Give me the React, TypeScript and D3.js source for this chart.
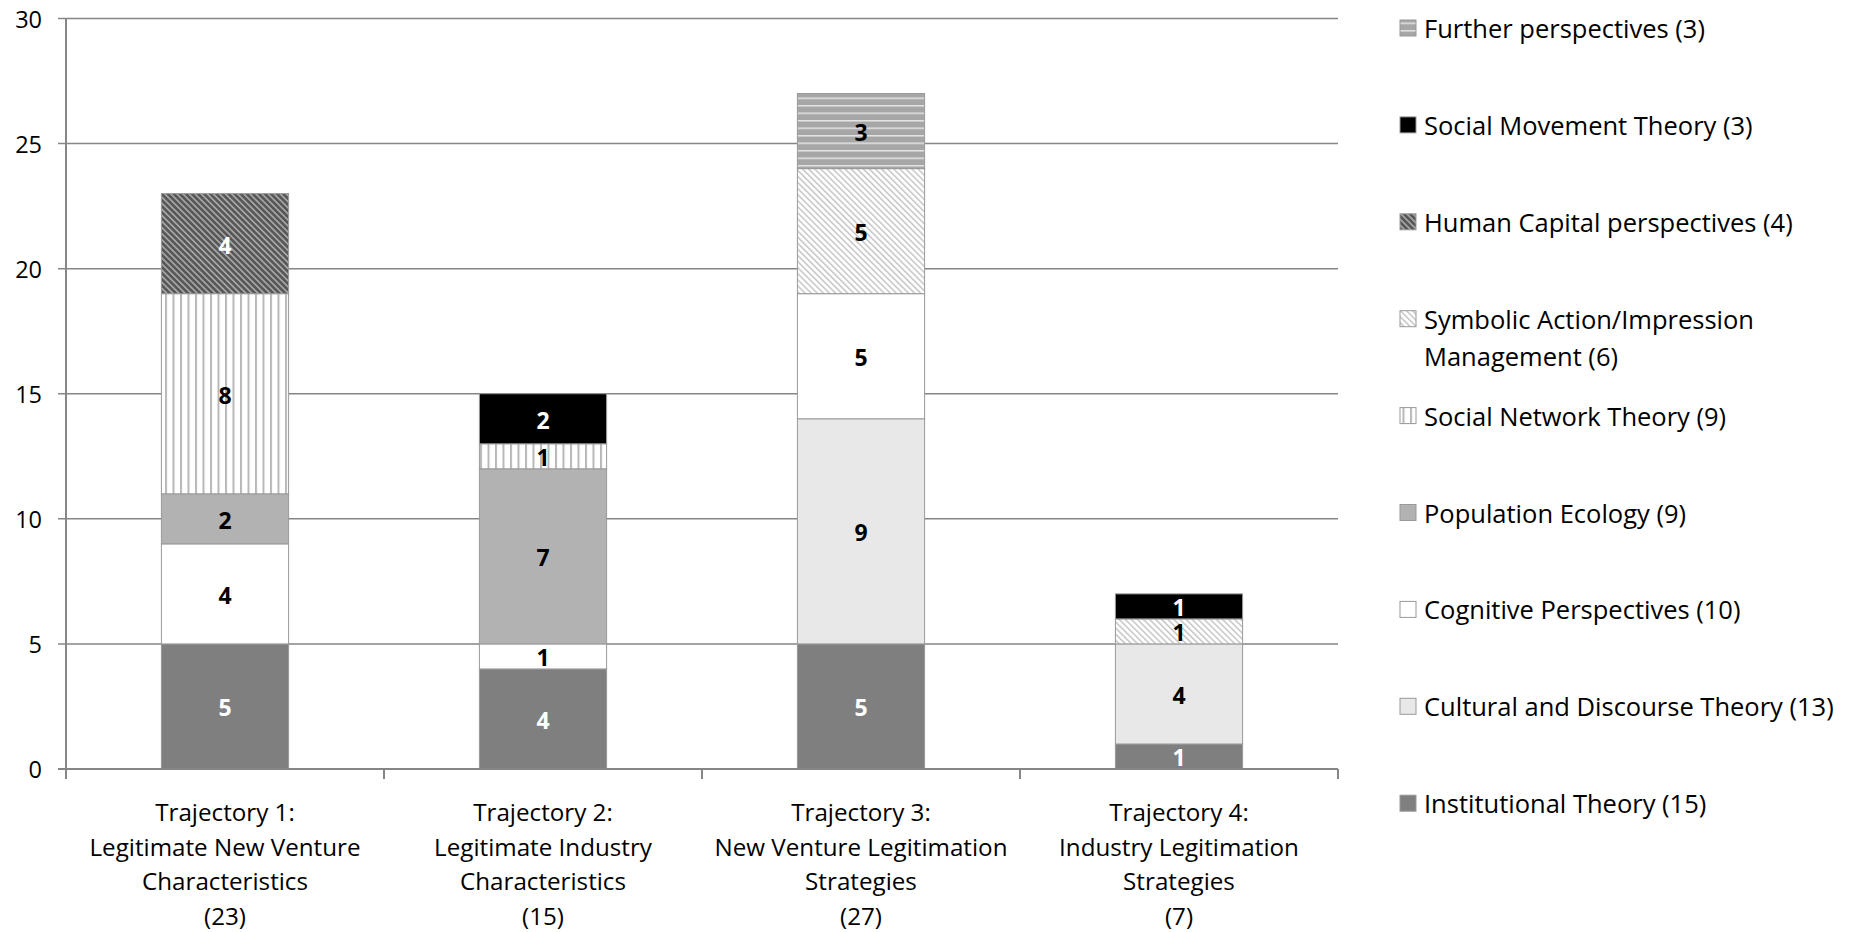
import React from "react";
import * as d3 from "d3";

// Research trajectories (x categories), each label split into lines
const trajectoryLines: string[][] = [
  ["Trajectory 1:", "Legitimate New Venture", "Characteristics"],
  ["Trajectory 2:", "Legitimate Industry", "Characteristics"],
  ["Trajectory 3:", "New Venture Legitimation", "Strategies"],
  ["Trajectory 4:", "Industry Legitimation", "Strategies"],
];
const trajectories = ["T1", "T2", "T3", "T4"];

// Theoretical perspectives, bottom of the stack first
const perspectives = [
  "Institutional Theory",
  "Cultural and Discourse Theory",
  "Cognitive Perspectives",
  "Population Ecology",
  "Social Network Theory",
  "Symbolic Action/Impression\nManagement",
  "Human Capital perspectives",
  "Social Movement Theory",
  "Further perspectives",
];

// Article counts per perspective, one value per trajectory (T1..T4)
const institutional = [5, 4, 5, 1];
const cultural = [0, 0, 9, 4];
const cognitive = [4, 1, 5, 0];
const populationEcology = [2, 7, 0, 0];
const socialNetwork = [8, 1, 0, 0];
const symbolicAction = [0, 0, 5, 1];
const humanCapital = [4, 0, 0, 0];
const socialMovement = [0, 2, 0, 1];
const further = [0, 0, 3, 0];

const seriesValues = [
  institutional,
  cultural,
  cognitive,
  populationEcology,
  socialNetwork,
  symbolicAction,
  humanCapital,
  socialMovement,
  further,
];

const yTicks = [0, 5, 10, 15, 20, 25, 30];

// Fill and label colour per perspective
const fills = [
  "#7f7f7f",
  "#e8e8e8",
  "#ffffff",
  "#b2b2b2",
  "url(#pat-vertical)",
  "url(#pat-light-diag)",
  "url(#pat-dark-diag)",
  "#000000",
  "url(#pat-horizontal)",
];
const labelColors = ["#fff", "#000", "#000", "#000", "#000", "#000", "#fff", "#fff", "#000"];

const FONT = "'Open Sans', 'Noto Sans', sans-serif";
const GRID = "#868686";

export default function App() {
  const width = 1850;
  const height = 932;
  const left = 66;
  const right = 1338;
  const top = 18.5;
  const bottom = 769;

  const keys = perspectives.map((_, i) => String(i));
  const rows = trajectories.map((t, ti) => {
    const r: Record<string, number | string> = { trajectory: t };
    keys.forEach((k, si) => (r[k] = seriesValues[si][ti]));
    return r;
  });
  const stacked = d3.stack<any>().keys(keys)(rows as any);

  const x = d3
    .scaleBand<string>()
    .domain(trajectories)
    .range([left, right])
    .paddingInner(0.6)
    .paddingOuter(0.3);
  const y = d3.scaleLinear().domain([0, 30]).range([bottom, top]);
  const step = x.step();

  const totalsByTrajectory = trajectories.map((_, ti) =>
    d3.sum(seriesValues, (s) => s[ti])
  );
  const totalsBySeries = seriesValues.map((s) => d3.sum(s));

  const legendX = 1400;
  const legendY0 = 28;
  const legendStep = 96.9;

  return (
    <svg
      width={width}
      height={height}
      style={{ position: "absolute", left: 0, top: 0, background: "#fff" }}
      fontFamily={FONT}
    >
      <defs>
        <pattern id="pat-vertical" patternUnits="userSpaceOnUse" width={7.5} height={10}>
          <rect width={7.5} height={10} fill="#fff" />
          <rect x={0} width={2} height={10} fill="#b8b8b8" />
        </pattern>
        <pattern
          id="pat-light-diag"
          patternUnits="userSpaceOnUse"
          width={4.3}
          height={10}
          patternTransform="rotate(-45)"
        >
          <rect width={4.3} height={10} fill="#fff" />
          <rect x={0} width={1.5} height={10} fill="#c6c6c6" />
        </pattern>
        <pattern
          id="pat-dark-diag"
          patternUnits="userSpaceOnUse"
          width={4.3}
          height={10}
          patternTransform="rotate(-45)"
        >
          <rect width={4.3} height={10} fill="#575757" />
          <rect x={0} width={1.7} height={10} fill="#a6a6a6" />
        </pattern>
        <pattern id="pat-horizontal" patternUnits="userSpaceOnUse" width={10} height={7.5}>
          <rect width={10} height={7.5} fill="#a6a6a6" />
          <rect y={0} width={10} height={1.5} fill="#e4e4e4" />
        </pattern>
      </defs>

      {/* horizontal gridlines with left ticks */}
      {yTicks.map((t) => (
        <g key={t}>
          {t > 0 && (
            <line x1={left - 8} x2={right} y1={y(t)} y2={y(t)} stroke={GRID} strokeWidth={1.5} />
          )}
          <text
            x={42}
            y={y(t)}
            textAnchor="end"
            dominantBaseline="central"
            fontSize={23.5}
            fill="#000"
          >
            {t}
          </text>
        </g>
      ))}

      {/* stacked bars */}
      {stacked.map((layer, si) =>
        layer.map((d, ti) => {
          const v = d[1] - d[0];
          if (v <= 0) return null;
          const bx = x(trajectories[ti])!;
          const y0 = y(d[0]);
          const y1 = y(d[1]);
          return (
            <g key={`${si}-${ti}`}>
              <rect
                x={bx}
                y={y1}
                width={x.bandwidth()}
                height={y0 - y1}
                fill={fills[si]}
                stroke="#999"
                strokeWidth={1}
              />
              <text
                x={bx + x.bandwidth() / 2}
                y={(y0 + y1) / 2 + 1}
                textAnchor="middle"
                dominantBaseline="central"
                fontSize={23}
                fontWeight="bold"
                fill={labelColors[si]}
              >
                {v}
              </text>
            </g>
          );
        })
      )}

      {/* axes */}
      <line x1={left} x2={left} y1={top} y2={bottom} stroke={GRID} strokeWidth={2} />
      <line x1={left - 8} x2={right} y1={bottom} y2={bottom} stroke={GRID} strokeWidth={2} />
      {d3.range(trajectories.length + 1).map((i) => (
        <line
          key={i}
          x1={left + i * step}
          x2={left + i * step}
          y1={bottom}
          y2={bottom + 10}
          stroke={GRID}
          strokeWidth={2}
        />
      ))}

      {/* category labels */}
      {trajectories.map((t, ti) => {
        const cx = x(t)! + x.bandwidth() / 2;
        const lines = [...trajectoryLines[ti], `(${totalsByTrajectory[ti]})`];
        return (
          <text key={t} textAnchor="middle" fontSize={24.2} fill="#000">
            {lines.map((ln, li) => (
              <tspan key={li} x={cx} y={821 + li * 34.5}>
                {ln}
              </tspan>
            ))}
          </text>
        );
      })}

      {/* legend, top entry is the last series */}
      {perspectives
        .map((name, si) => ({ name, si }))
        .reverse()
        .map(({ name, si }, i) => {
          const cy = legendY0 + i * legendStep;
          const parts = name.split("\n");
          parts[parts.length - 1] += ` (${totalsBySeries[si]})`;
          return (
            <g key={si}>
              <rect
                x={legendX}
                y={cy - 8}
                width={16}
                height={16}
                fill={fills[si]}
                stroke="#999"
                strokeWidth={1}
              />
              <text fontSize={25.5} fill="#000">
                {parts.map((p, pi) => (
                  <tspan key={pi} x={legendX + 24} y={cy + pi * 37} dominantBaseline="central">
                    {p}
                  </tspan>
                ))}
              </text>
            </g>
          );
        })}
    </svg>
  );
}
